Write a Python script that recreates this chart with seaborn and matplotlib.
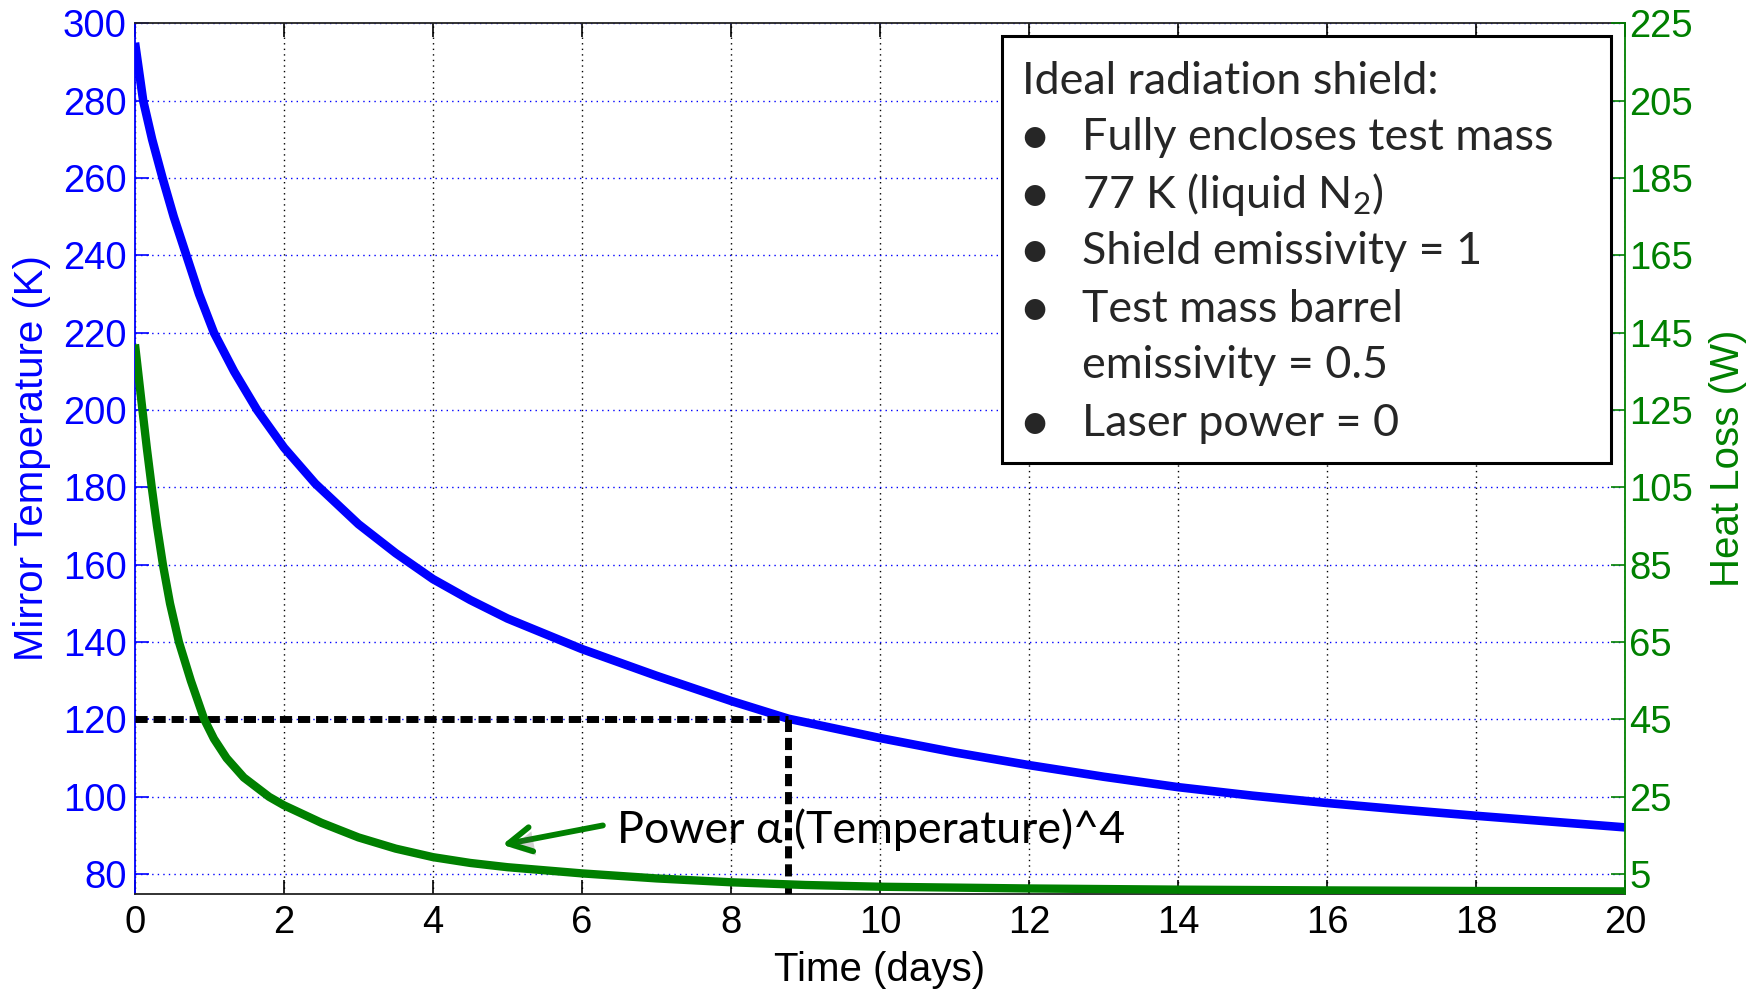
import numpy as np
import pandas as pd
import matplotlib
matplotlib.use("Agg")
import matplotlib.pyplot as plt
import matplotlib.patheffects as pe
from matplotlib.patches import Rectangle
from matplotlib import font_manager
import seaborn as sns

# ---------------- data ----------------
temp_days = [0, 0.11, 0.23, 0.37, 0.52, 0.69, 0.86, 1.06, 1.33, 1.64, 2.0, 2.42,
             3.0, 3.5, 4.0, 4.5, 5.0, 6.0, 7.0, 8.0, 8.77, 10.0, 11.0,
             12.0, 13.0, 14.0, 15.0, 16.0, 17.0, 18.0, 19.0, 20.0]
temp_K = [295, 280, 270, 260, 250, 240, 230, 220, 210, 200, 190.3, 181.0,
          170.5, 163.0, 156.3, 150.9, 146.1, 138.2, 131.3, 124.8, 120.2, 115.2, 111.5,
          108.2, 105.2, 102.5, 100.3, 98.4, 96.7, 95.1, 93.6, 92.1]

loss_days = [0, 0.10, 0.16, 0.225, 0.295, 0.375, 0.47, 0.59, 0.75, 0.93, 1.06,
             1.23, 1.46, 1.80, 2.0, 2.5, 3.0, 3.5, 4.0, 4.5, 5.0, 6.0, 7.0, 8.0,
             9.0, 10.0, 12.0, 14.0, 16.0, 18.0, 20.0]
loss_W = [142, 125, 115, 105, 95, 85, 75, 65, 55, 45, 40,
          35, 30, 25, 22.8, 18.3, 14.5, 11.6, 9.4, 7.9, 6.8, 5.2, 3.9, 2.9,
          2.2, 1.75, 1.3, 1.0, 0.8, 0.65, 0.55]

x_ticks = list(range(0, 21, 2))
left_ticks = list(range(80, 301, 20))
right_ticks = list(range(5, 226, 20))

threshold_temp = 120
threshold_day = 8.77

box_title = "Ideal radiation shield:"
box_lines = [("\u2022", "Fully encloses test mass"),
             ("\u2022", "77 K (liquid N$_2$)"),
             ("\u2022", "Shield emissivity = 1"),
             ("\u2022", "Test mass barrel"),
             ("", "emissivity = 0.5"),
             ("\u2022", "Laser power = 0")]
annotation_text = "Power \u03b1 (Temperature)^4"

BLUE = "#0000ff"
GREEN = "#008000"

# ---------------- style ----------------
sns.set_style("white")
plt.rcParams["font.family"] = ["Liberation Sans", "DejaVu Sans"]
plt.rcParams["mathtext.fontset"] = "custom"
plt.rcParams["mathtext.rm"] = "Lato"
plt.rcParams["mathtext.it"] = "Lato:italic"
plt.rcParams["mathtext.bf"] = "Lato:bold"

names = {f.name for f in font_manager.fontManager.ttflist}
if "Liberation Sans Narrow" in names:
    tick_family, tick_fs = ["Liberation Sans Narrow", "DejaVu Sans"], 31.5
else:
    tick_family, tick_fs = ["Liberation Sans", "DejaVu Sans"], 27.5

W, H = 1762, 990
fig = plt.figure(figsize=(W / 100, H / 100), dpi=100)
fig.patch.set_facecolor("white")

ax_l, ax_r, ax_t, ax_b = 135, 1625, 23.4, 893.5
ax = fig.add_axes([ax_l / W, 1 - ax_b / H, (ax_r - ax_l) / W, (ax_b - ax_t) / H])
ax2 = ax.twinx()

df_t = pd.DataFrame({"day": temp_days, "T": temp_K})
df_p = pd.DataFrame({"day": loss_days, "P": loss_W})

sns.lineplot(data=df_t, x="day", y="T", ax=ax, color=BLUE, lw=6.2, sort=False,
             errorbar=None, zorder=3)
sns.lineplot(data=df_p, x="day", y="P", ax=ax2, color=GREEN, lw=6.0, sort=False,
             errorbar=None, zorder=3)
for line in ax.lines + ax2.lines:
    line.set_solid_joinstyle("round")
    line.set_solid_capstyle("butt")

# threshold dashed lines
dash = (0, (1.75, 0.85))
ax.plot([0, threshold_day], [threshold_temp, threshold_temp], color="k", lw=5.0,
        ls=dash, dash_capstyle="butt", zorder=4)
ax.plot([threshold_day, threshold_day], [75, threshold_temp], color="k", lw=5.0,
        ls=dash, dash_capstyle="butt", zorder=4)

# limits and ticks
ax.set_xlim(0, 20)
ax.set_ylim(75, 300)
ax2.set_ylim(0, 225)
ax.set_xticks(x_ticks)
ax.set_yticks(left_ticks)
ax2.set_yticks(right_ticks)
ax.set_xticklabels([str(v) for v in x_ticks], family=tick_family)
ax.set_yticklabels([str(v) for v in left_ticks], family=tick_family)
ax2.set_yticklabels([str(v) for v in right_ticks], family=tick_family)

ax.tick_params(axis="x", direction="in", top=True, bottom=True, length=10, width=1.2,
               colors="k", labelsize=tick_fs, pad=8)
ax.tick_params(axis="y", direction="in", left=True, right=False, length=10, width=1.2,
               colors=BLUE, labelsize=tick_fs, pad=6)
ax2.tick_params(axis="y", direction="in", right=True, left=False, length=10, width=1.2,
                colors=GREEN, labelsize=tick_fs, pad=3)

# grid
dot = (0, (1, 3))
ax.grid(axis="x", color="k", ls=dot, lw=1.0)
ax.grid(axis="y", color=BLUE, ls=dot, lw=1.0)
ax.set_axisbelow(True)
ax2.grid(False)

# spines
ax.spines["left"].set_color(BLUE)
ax.spines["right"].set_visible(False)
ax.spines["top"].set_color("#222222")
ax.spines["bottom"].set_color("#222222")
for s in ["left", "top", "bottom"]:
    ax2.spines[s].set_visible(False)
ax2.spines["right"].set_color(GREEN)
for a in (ax, ax2):
    for s in a.spines.values():
        s.set_linewidth(1.3)

# labels
lab_fs = 29
ax.set_xlabel("Time (days)", fontsize=lab_fs, color="k")
ax.set_ylabel("Mirror Temperature (K)", fontsize=lab_fs, color=BLUE)
ax2.set_ylabel("Heat Loss (W)", fontsize=lab_fs, color=GREEN)
ax.xaxis.set_label_coords(0.5, -0.066)
ax.yaxis.set_label_coords((51 - ax_l) / (ax_r - ax_l), 0.5)
ax2.yaxis.set_label_coords((1709 - ax_l) / (ax_r - ax_l), 0.5)

# annotation with arrow
ax.annotate("", xy=(4.93, 87.6), xytext=(6.28, 92.6),
            arrowprops=dict(arrowstyle="->,head_length=0.75,head_width=0.4",
                            mutation_scale=22, color=GREEN, lw=4.2,
                            shrinkA=0, shrinkB=0,
                            path_effects=[pe.withSimplePatchShadow(offset=(2, -3),
                                                                   alpha=0.25)]),
            zorder=6)
ax.text(6.47, 91.4, annotation_text, fontsize=32.2, family=["Lato", "DejaVu Sans"],
        color="k", ha="left", va="center", zorder=6)


# text box (figure coordinates)
def fx(px):
    return px / W


def fy(py):
    return 1 - py / H


box = Rectangle((fx(1002), fy(463)), fx(1611) - fx(1002), fy(36) - fy(463),
                transform=fig.transFigure, facecolor="white", edgecolor="k",
                lw=2.2, zorder=10)
fig.add_artist(box)

box_fs = 32.3
fam = ["Lato", "DejaVu Sans"]
fig.text(fx(1022), fy(81), box_title, fontsize=box_fs, family=fam, ha="left",
         va="center", zorder=11)
line_y = [137, 195, 252, 310, 366, 424]
for (bullet, txt), yy in zip(box_lines, line_y):
    if bullet:
        fig.text(fx(1034), fy(yy + 1), bullet, fontsize=40, family=fam,
                 ha="center", va="center", zorder=11)
    fig.text(fx(1082), fy(yy), txt, fontsize=box_fs, family=fam,
             ha="left", va="center", zorder=11)

fig.savefig("out.png", dpi=100, facecolor="white")
